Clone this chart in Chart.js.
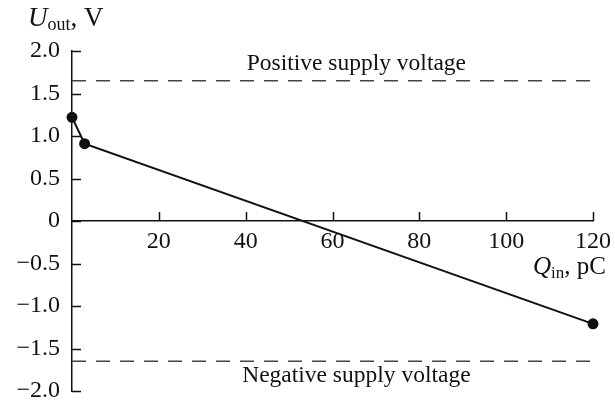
<!DOCTYPE html>
<html>
<head>
<meta charset="utf-8">
<script src="https://cdn.jsdelivr.net/npm/chart.js@4.4.1/dist/chart.umd.min.js"></script>
<style>
  html, body { margin: 0; padding: 0; background: #fff; }
  #wrap { width: 615px; height: 405px; position: relative; }
</style>
</head>
<body>
<div id="wrap"><canvas id="chart"></canvas></div>
<script>
// ---- DATA ----
const qIn   = [0, 2.9, 120];          // Q_in, pC
const uOut  = [1.22, 0.91, -1.21];    // U_out, V
const supplyX   = [0, 120];
const posSupply = [1.65, 1.65];
const negSupply = [-1.65, -1.65];
const xTicks = [20, 40, 60, 80, 100, 120];
const yTicks = [-2, -1.5, -1, -0.5, 0, 0.5, 1, 1.5, 2];
const supplyLabels = [
  { text: 'Positive supply voltage', x: 65.5, y: 1.86 },
  { text: 'Negative supply voltage', x: 65.5, y: -1.81 },
];

const FONT = '"Liberation Serif", "DejaVu Serif", serif';
const INK  = '#111';

const toPts = (xs, ys) => xs.map((x, i) => ({ x, y: ys[i] }));

// ---- tick marks, axis titles, supply labels ----
const decorPlugin = {
  id: 'decor',
  afterDraw(chart) {
    const { ctx, scales: { x, y } } = chart;
    const x0 = x.getPixelForValue(0);
    const y0 = y.getPixelForValue(0);
    ctx.save();
    ctx.strokeStyle = INK;
    ctx.lineWidth = 1.5;
    ctx.beginPath();
    yTicks.forEach(v => {
      const py = Math.round(y.getPixelForValue(v)) + 0.5;
      ctx.moveTo(x0, py); ctx.lineTo(x0 + 9, py);
    });
    xTicks.forEach(v => {
      const px = Math.round(x.getPixelForValue(v)) + 0.5;
      ctx.moveTo(px, y0); ctx.lineTo(px, y0 - 9);
    });
    ctx.stroke();

    ctx.fillStyle = INK;
    ctx.textBaseline = 'alphabetic';

    // supply labels
    ctx.font = '23.5px ' + FONT;
    ctx.textAlign = 'center';
    supplyLabels.forEach(l => {
      ctx.fillText(l.text, x.getPixelForValue(l.x), y.getPixelForValue(l.y) + 7);
    });

    // axis titles (italic symbol + upright subscript)
    const title = (sym, sub, rest, px, py, size) => {
      ctx.textAlign = 'left';
      ctx.font = 'italic ' + size + 'px ' + FONT;
      ctx.fillText(sym, px, py);
      px += ctx.measureText(sym).width;
      ctx.font = Math.round(size * 0.68) + 'px ' + FONT;
      ctx.fillText(sub, px, py + 4);
      px += ctx.measureText(sub).width;
      ctx.font = size + 'px ' + FONT;
      ctx.fillText(rest, px, py);
    };
    title('U', 'out', ', V', 28, 26, 27);
    title('Q', 'in', ', pC', 533, 274, 25);
    ctx.restore();
  }
};

new Chart(document.getElementById('chart'), {
  type: 'scatter',
  data: {
    datasets: [
      {
        data: toPts(qIn, uOut),
        showLine: true,
        borderColor: INK,
        backgroundColor: INK,
        borderWidth: 2,
        pointRadius: 4.5,
        pointHoverRadius: 4.5,
        clip: false,
      },
      {
        data: toPts(supplyX, posSupply),
        showLine: true,
        borderColor: '#444',
        borderWidth: 1.3,
        borderDash: [14, 10],
        pointRadius: 0,
      },
      {
        data: toPts(supplyX, negSupply),
        showLine: true,
        borderColor: '#444',
        borderWidth: 1.3,
        borderDash: [14, 10],
        pointRadius: 0,
      },
    ]
  },
  options: {
    responsive: true,
    maintainAspectRatio: false,
    animation: false,
    layout: { padding: { left: 0, top: 51, right: 22, bottom: 14 } },
    plugins: {
      legend: { display: false },
      tooltip: { enabled: false },
    },
    scales: {
      x: {
        type: 'linear',
        position: { y: 0 },
        min: 0, max: 120,
        afterBuildTicks: s => { s.ticks = xTicks.map(v => ({ value: v })); },
        afterFit: s => { s.height = 0; s.paddingLeft = 0; s.paddingRight = 0; },
        grid: { display: false, drawTicks: false },
        border: { display: true, color: INK, width: 1.5 },
        ticks: {
          color: INK,
          font: { family: FONT, size: 24 },
          padding: 6,
          maxRotation: 0,
          autoSkip: false,
        },
      },
      y: {
        type: 'linear',
        min: -2, max: 2,
        afterBuildTicks: s => { s.ticks = yTicks.map(v => ({ value: v })); },
        afterFit: s => { s.width = 72; s.paddingTop = 0; s.paddingBottom = 0; },
        grid: { display: false, drawTicks: false },
        border: { display: true, color: INK, width: 1.5 },
        ticks: {
          color: INK,
          font: { family: FONT, size: 24 },
          padding: 12,
          autoSkip: false,
          callback: v => v === 0 ? '0' : (v < 0 ? '\u2212' : '') + Math.abs(v).toFixed(1),
        },
      }
    }
  },
  plugins: [decorPlugin]
});
</script>
</body>
</html>
